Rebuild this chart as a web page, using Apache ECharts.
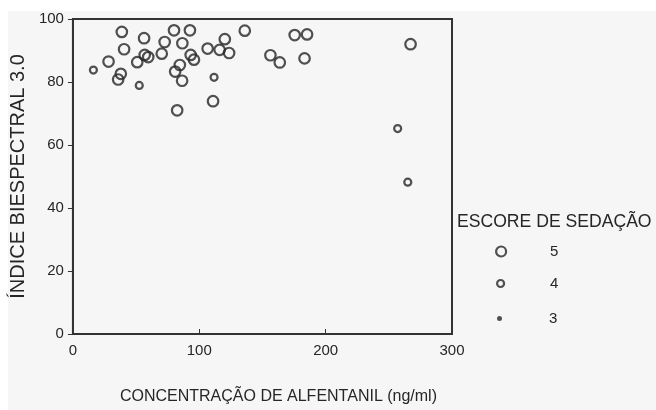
<!DOCTYPE html>
<html>
<head>
<meta charset="utf-8">
<title>BIS x alfentanil</title>
<script src="https://cdn.jsdelivr.net/npm/echarts@6.0.0/dist/echarts.min.js"></script>
<style>
    html, body { margin: 0; padding: 0; background: #fff; }
    #chart { width: 656px; height: 410px; }
</style>
</head>
<body>
<div id="chart"></div>
<script>
// escore de sedação 5
const conc5 = [38.7, 56.3, 40.5, 28.2, 50.9, 56.8, 59.6, 37.9, 35.8, 70.3, 72.6, 80.0, 92.6, 86.6, 93.2, 95.8,
    84.6, 80.9, 86.4, 82.5, 106.6, 116.1, 120.2, 123.6, 136.0, 110.9, 156.3, 163.7, 175.5, 185.3, 183.3, 267.2];
const bis5 = [95.9, 93.9, 90.4, 86.5, 86.3, 88.6, 87.9, 82.6, 80.8, 89.0, 92.7, 96.4, 96.4, 92.3, 88.6, 87.1,
    85.4, 83.3, 80.4, 71.0, 90.6, 90.2, 93.6, 89.2, 96.3, 73.9, 88.5, 86.2, 94.9, 95.1, 87.5, 92.0];
// escore 4
const conc4 = [16.2, 52.5, 111.7, 257.0, 265.0];
const bis4 = [83.8, 78.9, 81.5, 65.2, 48.2];
// escore 3 (nenhum ponto visível)
const conc3 = [];
const bis3 = [];

const scoreNames = ['5', '4', '3'];
const xTicks = [0, 100, 200, 300];
const yTicks = [0, 20, 40, 60, 80, 100];

const ink = '#262626';
const lineInk = '#333';
const font = 'Liberation Sans, Arial, sans-serif';

function pairs(xs, ys) {
    return xs.map((x, i) => [x, ys[i]]);
}

const hollow = { color: 'rgba(0,0,0,0)', borderColor: ink, borderWidth: 2.2 };

function legendFor(name, top, left, size, pad, filled) {
    return {
        data: [name],
        orient: 'vertical',
        left: left,
        top: top,
        padding: 0,
        itemWidth: size,
        itemHeight: size,
        icon: 'circle',
        selectedMode: false,
        itemStyle: filled ? { color: ink, borderWidth: 0 } : hollow,
        textStyle: { color: ink, fontFamily: font, fontSize: 15, padding: [0, 0, 0, pad] }
    };
}

const chart = echarts.init(document.getElementById('chart'));
chart.setOption({
    animation: false,
    backgroundColor: '#fff',
    graphic: [{
        type: 'rect',
        z: -10,
        shape: { x: 8, y: 11, width: 660, height: 410 },
        style: { fill: '#f6f6f6' }
    }],
    title: {
        text: 'ESCORE DE SEDAÇÃO',
        left: 457,
        top: 213,
        padding: 0,
        textStyle: { color: ink, fontFamily: font, fontSize: 17.6, fontWeight: 'normal' }
    },
    legend: [
        legendFor(scoreNames[0], 244, 495, 10, 39, false),
        legendFor(scoreNames[1], 276, 496, 7, 41, false),
        legendFor(scoreNames[2], 311, 497, 5, 42, true)
    ],
    grid: {
        left: 72,
        right: 204,
        top: 19,
        bottom: 74,
        show: true,
        borderColor: lineInk,
        borderWidth: 2,
        backgroundColor: 'transparent'
    },
    xAxis: {
        type: 'value',
        min: xTicks[0],
        max: xTicks[xTicks.length - 1],
        interval: 100,
        name: 'CONCENTRAÇÃO DE ALFENTANIL (ng/ml)',
        nameLocation: 'middle',
        nameGap: 55,
        nameTextStyle: { color: ink, fontFamily: font, fontSize: 16, padding: [0, 0, 0, 32] },
        axisLine: { lineStyle: { color: lineInk, width: 2 } },
        axisTick: { inside: true, length: 5, lineStyle: { color: lineInk } },
        axisLabel: { color: ink, fontFamily: font, fontSize: 15, margin: 9 },
        splitLine: { show: false }
    },
    yAxis: {
        type: 'value',
        min: yTicks[0],
        max: yTicks[yTicks.length - 1],
        interval: 20,
        name: 'ÍNDICE BIESPECTRAL 3.0',
        nameLocation: 'middle',
        nameGap: 41,
        nameTextStyle: { color: ink, fontFamily: font, fontSize: 20 },
        axisLine: { lineStyle: { color: lineInk, width: 2 } },
        axisTick: { length: 5, lineStyle: { color: lineInk } },
        axisLabel: { color: ink, fontFamily: font, fontSize: 15, margin: 9 },
        splitLine: { show: false }
    },
    series: [
        {
            name: scoreNames[0],
            type: 'scatter',
            symbol: 'circle',
            symbolSize: 10.5,
            itemStyle: hollow,
            data: pairs(conc5, bis5)
        },
        {
            name: scoreNames[1],
            type: 'scatter',
            symbol: 'circle',
            symbolSize: 7,
            itemStyle: hollow,
            data: pairs(conc4, bis4)
        },
        {
            name: scoreNames[2],
            type: 'scatter',
            symbol: 'circle',
            symbolSize: 5,
            itemStyle: { color: ink },
            data: pairs(conc3, bis3)
        }
    ]
});
</script>
</body>
</html>
